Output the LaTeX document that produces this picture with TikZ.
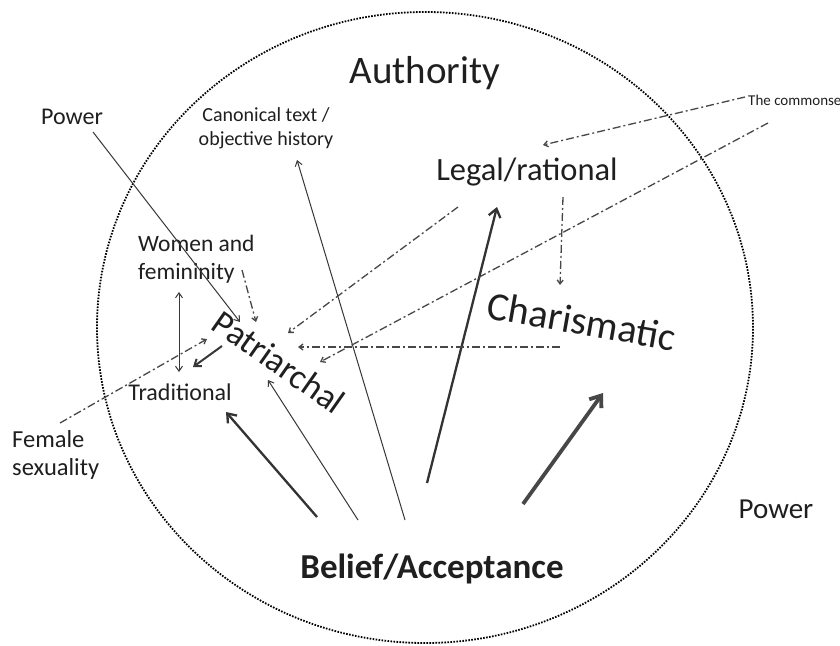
\documentclass[tikz,border=0pt]{standalone}
\usepackage{fontspec}
\setmainfont{Carlito}
\usetikzlibrary{arrows.meta}
\begin{document}
\begin{tikzpicture}[x=1pt,y=-1pt,
  lbl/.style={inner sep=0pt, text=black!88},
  solidarrow/.style={draw=black!78, line width=1pt, -{Straight Barb[length=5pt,width=7pt]}},
  thickarrow/.style={draw=black!80, line width=2.3pt, -{Straight Barb[length=8pt,width=12pt]}},
  heavyarrow/.style={draw=black!72, line width=3.8pt, -{Straight Barb[length=10pt,width=15pt]}},
  dasharrow/.style={draw=black!72, line width=1.3pt, dash pattern=on 8pt off 3pt on 2pt off 3pt, -{Straight Barb[length=4pt,width=6pt]}},
  boundary/.style={draw=black, line width=1.8pt, dash pattern=on 1.6pt off 1.4pt}
]
\useasboundingbox (0,0) rectangle (840,645);
\fill[white] (0,0) rectangle (840,645);
% boundary
\draw[boundary] (425,327.5) ellipse [x radius=328pt, y radius=315.5pt];

% labels
\node[lbl, anchor=base, font=\fontsize{39}{44}\selectfont] (auth) at (425,83) {Authority};
\node[lbl, anchor=base, font=\fontsize{24}{28}\selectfont] (powerL) at (72,124) {Power};
\node[lbl, align=center, font=\fontsize{20}{24}\selectfont] (canon) at (266,128) {Canonical text /\\objective history};
\node[lbl, anchor=base, font=\fontsize{32.5}{38}\selectfont] (legal) at (527,180) {Legal/rational};
\node[lbl, anchor=west, align=left, font=\fontsize{23.5}{28}\selectfont] (women) at (138,259) {Women and\\femininity};
\node[lbl, anchor=base, font=\fontsize{24}{26}\selectfont] (trad) at (180,400) {Traditional};
\node[lbl, anchor=west, align=left, font=\fontsize{24.5}{28}\selectfont] (female) at (12,455) {Female\\sexuality};
\node[lbl, anchor=base, font=\fontsize{29}{32}\selectfont] (powerR) at (776,518) {Power};
\node[lbl, anchor=base, font=\bfseries\fontsize{35}{40}\selectfont] (belief) at (432,578) {Belief/Acceptance};
\node[lbl, anchor=base west, font=\fontsize{15}{17}\selectfont] (common) at (748,105) {The commonsense};
\node[lbl, rotate=-35, font=\fontsize{35}{40}\selectfont] (patri) at (279,362) {Patriarchal};
\node[lbl, rotate=-10, font=\fontsize{40}{44}\selectfont] (charis) at (582,321) {Charismatic};

% connector end points
\coordinate (bA) at (405,520); \coordinate (canonT) at (297,160);
\coordinate (bB) at (358,520); \coordinate (patriB) at (268,380);
\coordinate (bC) at (317,517); \coordinate (tradE) at (226,412);
\coordinate (bD) at (427,483); \coordinate (legalB) at (497,207);
\coordinate (bE) at (523,504); \coordinate (charisB) at (603,393);
\coordinate (powS) at (93,132); \coordinate (patriP) at (240,322);
\coordinate (womB) at (179,292); \coordinate (tradT) at (179,372);
\coordinate (patriL) at (222,346); \coordinate (tradR) at (193,367);
\coordinate (femT) at (60,423); \coordinate (patriF) at (207,339);
\coordinate (womE) at (242,270); \coordinate (patriW) at (256,322);
\coordinate (legalL) at (458,207); \coordinate (patriG) at (288,333);
\coordinate (charisL) at (560,347); \coordinate (patriH) at (298,347);
\coordinate (comA) at (768,123); \coordinate (patriC) at (320,362);
\coordinate (comB) at (745,97); \coordinate (legalT) at (543,145);
\coordinate (legalS) at (563,197); \coordinate (charisT) at (560,285);

% arrows from Belief/Acceptance
\draw[solidarrow] (bA) -- (canonT);
\draw[solidarrow] (bB) -- (patriB);
\draw[thickarrow] (bC) -- (tradE);
\draw[thickarrow] (bD) -- (legalB);
\draw[heavyarrow] (bE) -- (charisB);

% other solid arrows
\draw[solidarrow] (powS) -- (patriP);
\draw[solidarrow, {Straight Barb[length=5pt,width=7pt]}-{Straight Barb[length=5pt,width=7pt]}] (womB) -- (tradT);
\draw[draw=black!78, line width=2pt, -{Straight Barb[length=6pt,width=9pt]}] (patriL) -- (tradR);

% dash-dot arrows
\draw[dasharrow] (femT) -- (patriF);
\draw[dasharrow] (womE) -- (patriW);
\draw[dasharrow] (legalL) -- (patriG);
\draw[dasharrow] (charisL) -- (patriH);
\draw[dasharrow] (comA) -- (patriC);
\draw[dasharrow] (comB) -- (legalT);
\draw[dasharrow] (legalS) -- (charisT);
\end{tikzpicture}
\end{document}
